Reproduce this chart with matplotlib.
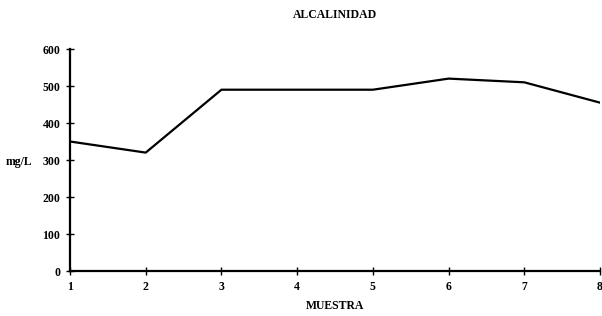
import matplotlib
matplotlib.use("Agg")
import matplotlib.pyplot as plt

# data
muestra = [1, 2, 3, 4, 5, 6, 7, 8]
alcalinidad = [350, 320, 490, 490, 490, 520, 510, 455]
y_ticks = [0, 100, 200, 300, 400, 500, 600]

plt.rcParams["font.family"] = ["Liberation Serif", "DejaVu Serif"]
plt.rcParams["font.weight"] = "bold"

fig = plt.figure(figsize=(6.02, 3.16), dpi=100)
ax = fig.add_axes([0.1163, 0.1424, 0.8804, 0.7025])

ax.plot(muestra, alcalinidad, color="black", linewidth=1.6)

ax.set_xlim(1, 8)
ax.set_ylim(0, 600)
ax.set_xticks(muestra)
ax.set_yticks(y_ticks)
ax.tick_params(direction="inout", length=6, width=1, labelsize=8.5, pad=4)
for lbl in ax.get_xticklabels() + ax.get_yticklabels():
    lbl.set_fontweight("bold")

for side in ("top", "right"):
    ax.spines[side].set_visible(False)
for side in ("left", "bottom"):
    ax.spines[side].set_linewidth(1.6)

ax.set_xlabel("MUESTRA", fontsize=8.5, fontweight="bold", labelpad=5)
fig.text(0.010, 1 - 162 / 316, "mg/L", fontsize=8.5, fontweight="bold",
         va="center", ha="left")
fig.text(0.5565, 1 - 15 / 316, "ALCALINIDAD", fontsize=8.5,
         fontweight="bold", ha="center", va="center")

fig.savefig("out.png", dpi=100)
